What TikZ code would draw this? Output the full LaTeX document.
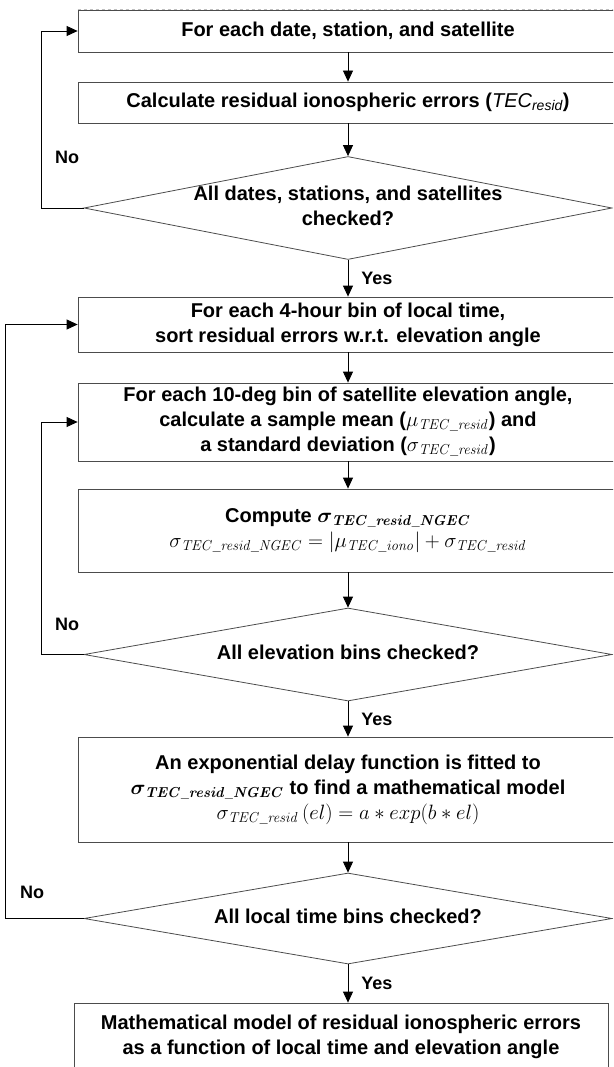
\documentclass[tikz,border=0pt]{standalone}
\usepackage{amsmath}
\usepackage[no-math]{fontspec}
\setmainfont{Liberation Sans}
\usetikzlibrary{shapes.geometric,arrows.meta}
\newcommand{\slim}[1]{\makebox[0pt]{\begin{tabular}{@{}c@{}}#1\end{tabular}}}
\begin{document}
\begin{tikzpicture}[x=1pt, y=-1pt,
    box/.style={draw=black!70, line width=0.8pt, inner sep=0pt, minimum width=540pt, align=center, font=\fontsize{20}{25}\selectfont\bfseries},
    choice/.style={diamond, draw=black!70, line width=0.8pt, inner sep=0pt, minimum width=528pt, font=\fontsize{20}{25}\selectfont\bfseries},
    flow/.style={-{Triangle[length=11pt,width=10pt]}, line width=0.8pt},
    tag/.style={inner sep=0pt, font=\fontsize{18}{20}\selectfont\bfseries}]

      \useasboundingbox (0,0) rectangle (613,1067);
      \clip (0,0) rectangle (613,1067);

      \node[box, minimum height=42pt] (each) at (348,31) {For each date, station, and satellite};
      \node[box, minimum height=41pt] (resid) at (348,102.5) {Calculate residual ionospheric errors (\textmd{\textit{TEC\textsubscript{resid}}})};
      \node[choice, minimum height=103pt] (alldates) at (348,208) {\raisebox{-7pt}{\slim{All dates, stations, and satellites\\checked?}}};

      \node[box, minimum height=55pt] (sort) at (348,324.5) {For each 4-hour bin of local time,\\sort residual errors w.r.t. elevation angle};
      \node[box, minimum height=78pt] (meanstd) at (348,422) {For each 10-deg bin of satellite elevation angle,\\calculate a sample mean ($\mu_{\mathit{TEC\_resid}}$) and\\a standard deviation ($\sigma_{\mathit{TEC\_resid}}$)};
      \node[box, minimum height=83pt] (ngec) at (348,530.5) {Compute {\boldmath$\sigma_{\mathit{TEC\_resid\_NGEC}}$}\\$\sigma_{\mathit{TEC\_resid\_NGEC}} = \left|\mu_{\mathit{TEC\_iono}}\right| + \sigma_{\mathit{TEC\_resid}}$};
      \node[choice, minimum height=93pt] (allelev) at (348,654.5) {\slim{All elevation bins checked?}};

      \node[box, minimum height=105pt] (fit) at (348,789.5) {An exponential delay function is fitted to\\{\boldmath$\sigma_{\mathit{TEC\_resid\_NGEC}}$} to find a mathematical model\\$\sigma_{\mathit{TEC\_resid}}\,(el) = a * exp(b * el)$};
      \node[choice, minimum height=91pt] (alltime) at (348,918.5) {\slim{All local time bins checked?}};
      \node[box, minimum width=534pt, minimum height=67pt] (model) at (341,1036.5) {Mathematical model of residual ionospheric errors\\as a function of local time and elevation angle};

      % faint cut edge on top
      \draw[white, line width=1.4pt] (each.north west) -- (each.north east);
      \draw[black!25, dashed, line width=0.6pt] (each.north west) -- (each.north east);

      \draw[flow] (each) -- (resid);
      \draw[flow] (resid) -- (alldates);
      \draw[flow] (alldates) -- node[tag, right, xshift=13pt] (yes1) {Yes} (sort);
      \draw[flow] (sort) -- (meanstd);
      \draw[flow] (meanstd) -- (ngec);
      \draw[flow] (ngec) -- (allelev);
      \draw[flow] (allelev) -- node[tag, right, xshift=13pt] (yes2) {Yes} (fit);
      \draw[flow] (fit) -- (alltime);
      \draw[flow] (alltime.south) -- node[tag, right, xshift=13pt] (yes3) {Yes} (alltime.south |- model.north);

      % loops back
      \draw[flow] (alldates.west) -- ++(-42,0) |- (each.west);
      \draw[flow] (allelev.west) -- ++(-42,0) |- (meanstd.west);
      \draw[flow] (alltime.west) -- ++(-78,0) |- (sort.west);

      \node[tag, right] (no1) at (55,157) {No};
      \node[tag, right] (no2) at (55,624) {No};
      \node[tag, right] (no3) at (20,892) {No};

\end{tikzpicture}
\end{document}
